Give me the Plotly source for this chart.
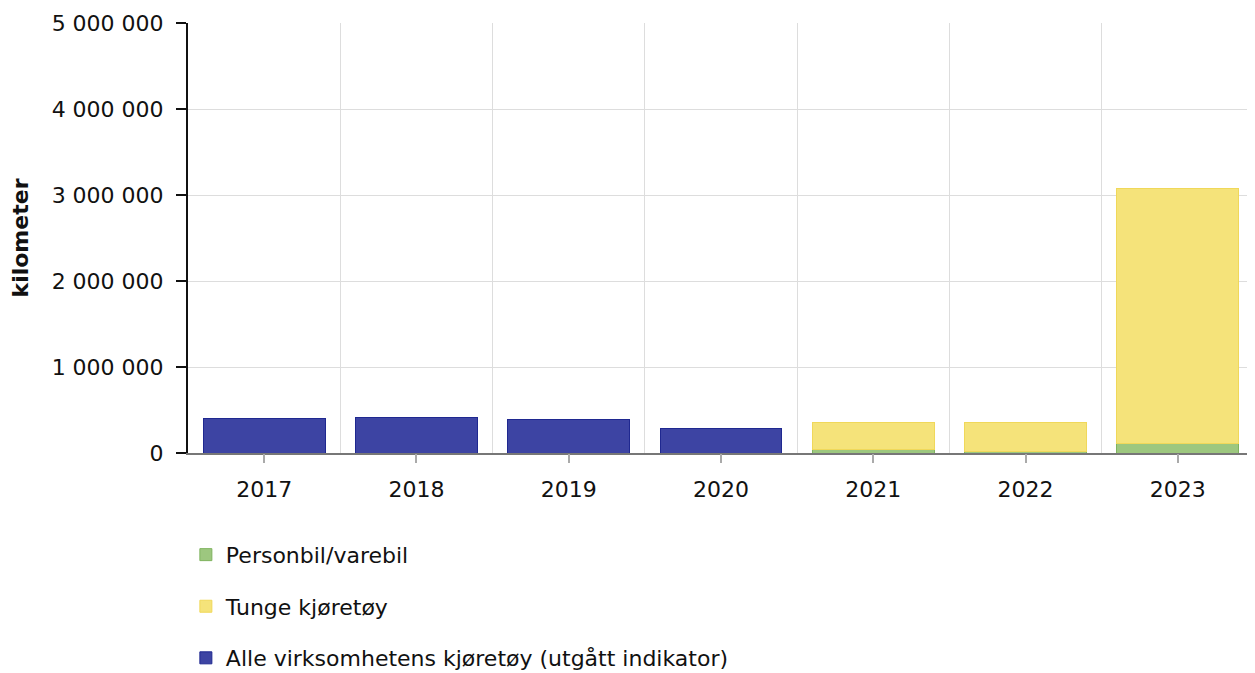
import plotly.graph_objects as go

years = ["2017", "2018", "2019", "2020", "2021", "2022", "2023"]
personbil = [None, None, None, None, 40000, 15000, 105000]
tunge = [None, None, None, None, 320000, 345000, 2965000]
alle = [407000, 418000, 384000, 290000, None, None, None]

names = ["Personbil/varebil", "Tunge kjøretøy", "Alle virksomhetens kjøretøy (utgått indikator)"]
fills = ["#9DC77F", "#F5E37A", "#3D44A3"]
edges = ["#7FB35E", "#F0D85A", "#1F2890"]

FONT = "Verdana, DejaVu Sans, sans-serif"

fig = go.Figure()
for i, (nm, vals) in enumerate(zip(names, [personbil, tunge, alle])):
    fig.add_trace(go.Bar(
        x=years, y=vals, name=nm,
        marker=dict(color=fills[i], line=dict(color=edges[i], width=1)),
        legendgroup=f"g{i}", legendrank=i + 1,
    ))

# dummy trace for centered tick marks on overlay axis
fig.add_trace(go.Scatter(x=years, y=[None] * len(years), xaxis="x2",
                         showlegend=False, hoverinfo="skip", mode="markers"))

fig.update_layout(
    width=1255, height=673,
    barmode="stack", bargap=0.2,
    separators=", ",
    paper_bgcolor="white", plot_bgcolor="white",
    font=dict(family=FONT, size=22, color="#111111"),
    margin=dict(l=180, r=9, t=15, b=228, autoexpand=False),
    xaxis=dict(
        type="category", tickson="boundaries", showgrid=True,
        gridcolor="#DDDDDD", gridwidth=1, ticks="", showticklabels=True,
        showline=True, linecolor="#777777", linewidth=2,
        tickfont=dict(size=22), ticklabelstandoff=16, automargin=False,
    ),
    xaxis2=dict(
        type="category", overlaying="x", matches="x", side="bottom",
        showgrid=False, ticks="outside", ticklen=9, tickwidth=2,
        tickcolor="#AAAAAA", showticklabels=False, showline=False,
    ),
    yaxis=dict(
        range=[0, 5000000], tickvals=[0, 1000000, 2000000, 3000000, 4000000, 5000000],
        tickformat=",d", showgrid=True, gridcolor="#DDDDDD", gridwidth=1,
        showline=True, linecolor="#111111", linewidth=2,
        ticks="outside", ticklen=10, tickwidth=2, tickcolor="#111111",
        zeroline=False, tickfont=dict(size=22), ticklabelstandoff=8,
        automargin=False,
        title=dict(text="<b>kilometer</b>", font=dict(size=22), standoff=17),
    ),
    legend=dict(
        orientation="v", x=-0.002, xref="paper", y=-0.188, yanchor="top",
        traceorder="grouped", tracegroupgap=20,
        font=dict(size=22), itemwidth=30,
    ),
    showlegend=True,
)

fig.write_html("out.html")
